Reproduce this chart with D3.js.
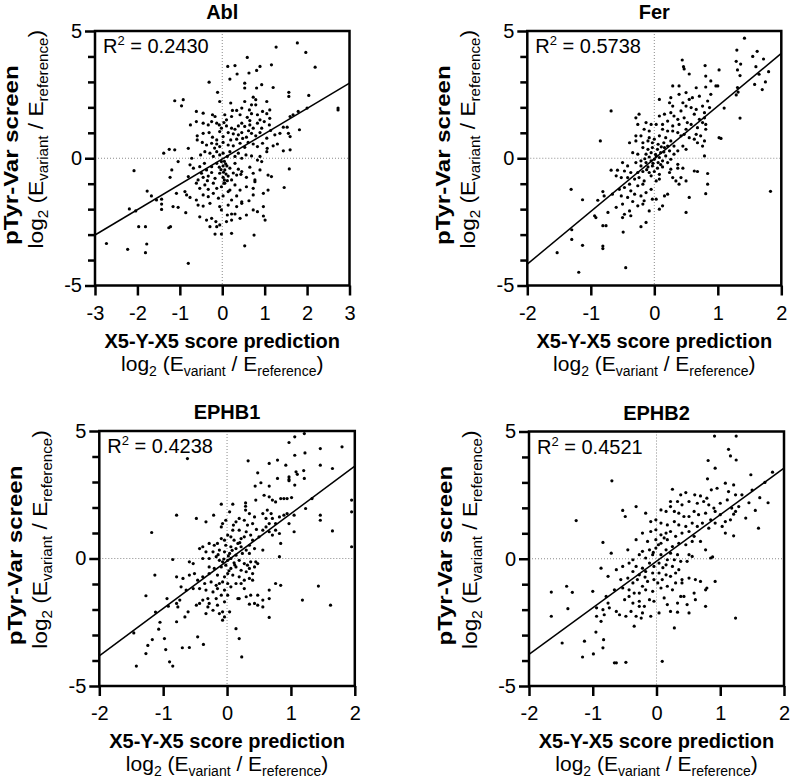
<!DOCTYPE html>
<html><head><meta charset="utf-8">
<script src="https://cdn.jsdelivr.net/npm/d3@7"></script>
<style>
body{margin:0;background:#fff;}
svg text{font-family:"Liberation Sans",Arial,Helvetica,sans-serif;fill:#000;}
</style></head><body>
<svg id="chart" width="790" height="781"></svg>
<script>
const panelTitles = ["Abl", "Fer", "EPHB1", "EPHB2"];
const r2Values = ["0.2430", "0.5738", "0.4238", "0.4521"];
const xDomains = [[-3, 3], [-2, 2], [-2, 2], [-2, 2]];
const xTickValues = [[-3, -2, -1, 0, 1, 2, 3], [-2, -1, 0, 1, 2], [-2, -1, 0, 1, 2], [-2, -1, 0, 1, 2]];
const yDomain = [-5, 5];
const yMajorTicks = [-5, 0, 5];
const yMinorTicks = [-4, -3, -2, -1, 1, 2, 3, 4];
const fitSlopes = [0.995, 2.07, 1.86, 1.83];
const fitIntercepts = [-0.03, -0.02, -0.10, -0.10];
const xTitle = "X5-Y-X5 score prediction";
const yTitle = "pTyr-Var screen";

const ablPoints = [
[-0.11,2.59],[0.73,2.40],[0.79,2.30],[1.57,2.59],[1.57,2.43],[-1.12,2.26],[-0.92,2.30],
[-0.96,2.06],[-0.06,2.23],[0.20,2.17],[0.53,2.23],[0.69,2.10],[0.79,2.10],[1.05,2.23],[1.12,1.90],[0.24,1.88],[0.34,1.88],[0.46,1.97],[0.64,1.90],[-0.61,1.84],[-0.45,1.77],
[-0.23,1.71],[-0.17,1.64],[0.06,1.71],[0.10,1.51],[0.22,1.64],[0.42,1.71],[0.69,1.75],[0.83,1.71],[0.95,1.84],[1.05,1.75],[1.12,1.57],[0.89,1.51],[0.59,1.61],[0.65,1.48],[1.67,1.71],[1.79,1.84],[1.60,1.64],
[-0.61,1.44],[-0.45,1.38],[-0.33,1.31],[-0.25,1.44],[-0.13,1.38],[-0.07,1.31],[0.04,1.40],[-0.02,1.18],[0.10,1.27],[0.22,1.18],[0.38,1.27],[0.30,1.14],[0.46,1.38],[0.53,1.25],[0.65,1.31],[0.73,1.18],[0.83,1.38],[0.99,1.44],[1.11,1.31],[0.93,1.18],[1.14,1.09],[1.44,1.22],[1.53,1.22],[-0.75,1.31],
[-0.59,0.88],[-0.59,0.72],[-0.45,0.98],[-0.31,1.01],[-0.23,0.83],[-0.13,0.72],[-0.06,1.05],[0.02,0.85],[0.14,1.01],[0.20,0.72],[0.26,0.96],[0.38,0.92],[0.46,1.01],[0.57,0.83],[0.69,0.98],[0.79,0.88],[0.89,1.01],[1.05,0.79],[1.24,0.92],[1.36,0.98],[1.56,0.98],[1.82,1.12],[1.60,0.85],
[-0.47,0.62],[-0.37,0.52],[-0.25,0.59],[-0.13,0.56],[-0.06,0.46],[0.02,0.62],[0.14,0.52],[0.26,0.49],[0.42,0.59],[0.53,0.43],[0.61,0.62],[0.73,0.56],[0.83,0.46],[0.95,0.59],[1.06,0.39],[1.20,0.49],[1.30,0.56],[1.44,0.29],[1.05,0.26],[1.60,0.33],[-1.12,0.33],[-0.80,0.39],
[-0.72,0.00],[-0.51,0.13],[-0.41,0.26],[-0.29,0.20],[-0.21,0.07],[-0.13,0.26],[-0.06,0.13],[0.02,0.20],[0.12,0.07],[0.18,0.26],[0.30,0.07],[0.38,0.20],[0.46,0.00],[0.56,0.13],[0.69,0.09],[0.83,-0.07],[0.89,0.07],[0.93,-0.13],[-1.04,-0.13],
[-0.76,-0.26],[-0.68,-0.39],[-0.53,-0.33],[-0.42,-0.20],[-0.37,-0.46],[-0.25,-0.33],[-0.13,-0.20],[-0.07,-0.35],[-0.02,-0.13],[0.02,-0.30],[0.06,-0.46],[0.18,-0.39],[0.30,-0.20],[0.38,-0.43],[0.46,-0.52],[0.65,-0.35],[0.73,-0.59],[0.89,-0.46],[1.08,-0.66],[1.58,-0.42],[-1.19,-0.46],
[-1.23,-0.75],[-0.80,-0.72],[-0.57,-0.85],[-0.49,-0.59],[-0.45,-0.75],[-0.33,-0.70],[-0.25,-0.56],[-0.17,-0.79],[-0.06,-0.59],[0.02,-0.75],[0.14,-0.70],[0.22,-0.85],[0.34,-0.66],[0.44,-0.63],[0.57,-0.75],[0.77,-0.85],[1.16,-0.72],
[-0.88,-1.31],[-0.61,-0.98],[-0.53,-1.18],[-0.41,-1.05],[-0.33,-1.22],[-0.21,-0.98],[-0.13,-1.18],[-0.02,-1.12],[0.06,-0.98],[0.18,-1.25],[0.30,-1.05],[0.42,-1.25],[0.57,-1.12],[0.73,-1.18],[0.77,-0.92],[0.97,-1.38],[1.08,-1.25],[1.46,-1.15],
[-1.08,-1.38],[-0.84,-1.44],[-0.76,-1.54],[-0.61,-1.64],[-0.45,-1.44],[-0.33,-1.51],[-0.21,-1.38],[-0.09,-1.57],[0.02,-1.48],[0.14,-1.31],[0.22,-1.64],[0.34,-1.48],[0.46,-1.71],[0.63,-1.67],[0.73,-1.44],
[-1.16,-1.90],[-1.04,-1.93],[-0.57,-1.84],[-0.45,-1.88],[-0.29,-1.77],[-0.06,-1.90],[-0.02,-2.03],[0.14,-1.84],[0.34,-1.90],[0.46,-1.77],[0.97,-1.90],[0.73,-2.03],[0.22,-2.19],[0.12,-2.23],[0.30,-2.19],[0.83,-2.10],
[-0.86,-2.14],[-0.53,-2.30],[-0.37,-2.43],[-0.25,-2.36],[-0.15,-2.49],[-0.06,-2.62],[-0.13,-2.69],[-0.29,-2.69],[0.10,-2.49],[0.22,-2.43],[0.42,-2.36],[0.57,-2.23],[0.97,-2.27],[1.01,-2.43],[-1.22,-2.69],
[-0.17,-2.98],[-0.02,-2.98],[0.22,-2.95],[0.75,-3.02],
[-2.73,-3.35],[-2.23,-3.58],[-1.81,-3.71],[-1.78,-3.37],[-1.97,-2.69],[-1.81,-2.69],[-2.19,-1.99],[-2.04,-2.07],[-2.08,-0.49],[-1.77,-1.29],[-1.67,-1.48],[-1.55,-1.64],[-1.43,-1.61],[-1.43,-1.80],[-1.43,-2.01],[-1.26,-2.73],[-1.38,0.20],[-1.25,0.35],
[2.19,3.58],[2.04,2.47],[2.00,1.97],[2.73,1.97],[2.73,1.90],[1.97,4.16],[1.77,4.53],[1.27,4.37],
[0.59,3.96],[0.13,3.61],[0.30,3.64],[0.89,3.61],[1.16,3.67],[0.81,3.45],[0.63,3.35],[0.35,3.31],[0.18,3.11],[-0.31,2.99],[1.20,2.78],[0.93,2.89],[0.53,2.95],[0.53,2.76],[0.81,2.76],
[-0.80,-4.13],[0.53,-3.44],
[0.05,-0.12],[0.08,-0.22],[0.03,-0.55],[0.09,-0.62],[0.05,-0.85],[-0.03,-0.45],[0.11,-0.30],[0.04,-0.98],[0.12,-0.88],[-0.18,0.40],[0.34,0.75],[0.48,0.78],[0.62,1.08],[-0.35,-0.88],[0.26,-0.58]
];

const ferPoints = [
[0.29,2.84],[0.39,2.84],[0.66,2.77],[0.81,2.80],[0.97,2.84],[1.00,2.84],[0.26,2.38],[0.39,2.51],[0.50,2.58],[0.55,2.31],[0.60,2.38],[0.71,2.44],[0.84,2.25],[0.89,2.51],[0.08,2.31],[0.24,2.18],[0.29,2.05],[0.45,2.18],[0.50,2.05],[0.58,1.99],[0.66,1.92],[0.76,2.05],[0.87,1.99],[0.79,1.79],[0.42,1.86],[0.26,1.79],[0.31,1.66],[0.16,1.73],[0.08,1.66],[0.37,1.53],[0.47,1.59],[0.63,1.73],[0.71,1.53],[0.79,1.59],[0.52,1.40],[0.58,1.33],[0.68,1.20],[0.76,1.40],[0.81,1.33],[0.81,1.14],[-0.68,1.86],[-0.24,1.73],[-0.29,1.59],[-0.26,1.33],[-0.13,1.40],[-0.05,1.33],[0.03,1.33],[0.13,1.33],[0.21,1.46],[0.29,1.27],[0.39,1.33],[0.50,1.14],[0.47,0.94],[0.66,0.94],[0.73,0.88],[0.79,0.68],[0.76,0.48],
[-0.16,1.14],[-0.08,1.07],[0.13,1.14],[0.21,1.07],[0.29,1.07],[0.37,1.01],[0.42,0.88],[0.55,0.81],[0.63,0.75],[0.68,0.61],[-0.29,0.88],[-0.21,0.88],[-0.08,0.81],[0,0.75],[0.08,0.88],[0.18,0.81],[0.26,0.68],[-0.39,0.61],[-0.29,0.68],[-0.18,0.61],[-0.10,0.68],[-0.03,0.61],[0.06,0.55],[0.15,0.61],[0.21,0.48],[0.31,0.48],[0.45,0.48],[0.50,0.35],[0.37,0.29],[-0.85,0.68],[-0.18,0.42],[-0.10,0.35],[-0.03,0.42],[0.05,0.35],[0.10,0.22],[0.16,0.42],[0.24,0.29],[0.31,0.16],[-0.34,0.22],[-0.26,0.16],[-0.13,0.16],[-0.05,0.22],[0.03,0.09],[0.08,0.03],[0.18,0.09],[0.79,0.09],[-0.21,-0.10],[-0.13,-0.17],[-0.05,-0.10],[0,-0.04],[0.06,-0.17],[0.13,-0.10],[0.21,-0.17],[0.26,-0.04],[0.37,-0.24],[0.45,-0.39],[-0.50,-0.17],[-0.42,-0.30],[-0.29,-0.17],[-0.21,-0.30],[-0.10,-0.34],[-0.03,-0.30],[0.05,-0.39],[0.13,-0.34],[0.26,-0.43],[0.37,-0.39],[0.63,-0.50],[0.68,-0.52],[0.84,-0.60],[-0.68,-0.47],[-0.58,-0.47],[-0.47,-0.50],[-0.37,-0.56],[-0.26,-0.56],[-0.18,-0.52],[-0.08,-0.56],[0,-0.52],[0.08,-0.63],[0.24,-0.56],[0.29,-0.76],[0.34,-0.89],[0.42,-0.76],[-0.60,-0.69],[-0.52,-0.76],[-0.42,-0.76],[-0.31,-0.82],[-0.24,-0.76],[-0.16,-0.89],[-0.05,-0.69],[0.03,-0.89],[0.08,-0.82],[0.39,-1.02],[0.50,-0.89],
[-0.81,-1.31],[-0.79,-1.48],[-1.13,-1.63],[-1.31,-1.22],[-0.89,-1.65],[-0.66,-1.41],[-0.55,-1.22],[-0.47,-1.15],[-0.39,-1.02],[-0.37,-1.28],[-0.26,-1.08],[-0.18,-1.02],[-0.13,-1.35],[-0.05,-1.22],[-0.52,-1.48],[-0.42,-1.54],[-0.31,-1.41],[-0.21,-1.48],[-0.16,-1.67],[-0.03,-1.61],[0.03,-1.61],[0.16,-1.48],[0.21,-1.41],[-0.50,-1.80],[-0.34,-1.70],[-0.26,-1.87],[-0.18,-1.80],[-0.60,-1.93],[-0.39,-2.07],[-0.08,-2.07],[0.08,-2.00],[0.13,-1.87],[0.55,-1.54],[-0.47,-2.20],[-0.37,-2.26],[-0.50,-2.33],[-0.73,-2.13],[-0.92,-2.33],[-0.94,-2.26],[-0.81,-2.65],[-0.76,-2.65],[-0.21,-2.69],[-0.13,-2.52],[0.50,-2.13],[0.81,-1.39],[0.84,-1.02],[1.02,0.81],
[-1.53,-3.71],[-1.19,-4.48],[-1.30,-3.19],[-1.30,-2.81],[-1.13,-3.42],[-0.81,-3.45],[-0.81,-3.55],[-0.49,-2.90],[-0.45,-4.30],
[0.44,3.86],[0.46,3.60],[0.47,3.51],[0.55,3.31],[0.80,3.64],[0.81,3.23],[1.02,3.47],[0.89,3.04],
[1.42,4.72],[1.30,4.25],[1.29,3.81],[1.36,3.70],[1.31,3.47],[1.35,3.25],[1.31,2.78],[1.32,2.60],[1.29,2.49],[1.10,1.97],[1.35,1.58],[1.05,0.78],
[1.55,4.0],[1.6,3.6],[1.65,3.3],[1.72,3.9],[1.75,3.0],[1.58,2.9],[1.8,3.4],[1.83,-1.3],[1.62,4.2],[1.7,2.7],
[0.02,0.15],[-0.08,0.05],[0.10,-0.25],[-0.12,-0.45],[0.15,0.25],[-0.02,-0.20],[0.11,0.45],[-0.15,-0.02]
];

const ephb1Points = [
[0.44,2.84],[0.53,2.97],[0.66,2.84],[0.97,3.05],[1.06,2.88],[0.58,2.48],[0.66,2.42],[0.71,2.29],[0.76,2.22],[0.84,2.35],[0.89,2.35],[0.94,2.35],[1.01,2.39],[0.45,2.29],[0.29,2.18],[0.29,2.05],[0.09,2.13],[-0.09,2.13],
[-0.79,1.70],[-0.48,1.57],[-0.33,1.44],[-0.21,1.70],[0.04,1.83],[0.29,1.90],[0.35,1.76],[0.43,1.63],[0.56,1.76],[0.63,1.90],[0.69,1.76],[0.61,1.57],[0.71,1.57],[0.82,1.63],[0.89,1.70],[0.94,1.76],[1.05,1.70],[1.23,1.96],[1.33,2.35],
[0.97,1.37],[1.05,1.05],[0.76,1.37],[0.66,1.37],[0.61,1.24],[0.56,1.11],[0.46,1.14],[0.40,1.37],[0.32,1.31],[0.27,1.50],[0.19,1.57],[0.14,1.44],[0.10,1.31],[-0.02,1.50],[-0.07,1.37],[-0.09,1.24],[0.09,1.11],[0.19,1.11],[0.30,1.05],[0.37,0.92],[0.66,1.05],[0.71,0.92],[0.76,1.11],[0.82,0.98],[0.84,0.59],[0.50,0.85],[0.56,0.33],
[0.40,0.72],[0.27,0.85],[0.22,0.78],[0.17,0.59],[0.11,0.72],[0.06,0.85],[0.01,0.92],[-0.04,0.72],[-0.09,0.78],[-0.15,0.59],[-0.02,0.52],[0.06,0.46],[0.14,0.39],[0.22,0.46],[0.30,0.33],[0.35,0.52],[0.43,0.39],[-0.28,0.59],[-0.20,0.52],[-0.38,0.46],[-0.43,0.39],[-0.33,0.26],[-0.22,0.26],[-0.12,0.33],[-0.04,0.26],[0.04,0.20],[0.14,0.13],[0.24,0.20],[0.35,0.20],[0.45,-0.13],[0.48,-0.20],[0.82,0.07],
[-0.85,-0.04],[-0.59,-0.13],[-0.53,-0.20],[-0.38,0],[-0.28,0],[-0.17,0.07],[-0.12,-0.07],[-0.07,-0.13],[0.01,-0.07],[0.06,0],[0.11,-0.17],[0.19,-0.07],[0.27,-0.20],[0.32,-0.26],[0.37,-0.13],[0.43,-0.33],
[-0.28,-0.33],[-0.20,-0.39],[-0.09,-0.33],[-0.02,-0.26],[0.06,-0.39],[0.14,-0.33],[0.22,-0.46],[0.30,-0.52],[0.35,-0.39],[0.40,-0.59],
[-0.79,-0.72],[-0.69,-0.78],[-0.59,-0.65],[-0.51,-0.59],[-0.46,-0.85],[-0.38,-0.72],[-0.28,-0.59],[-0.15,-0.65],[-0.04,-0.72],[0.01,-0.59],[0.09,-0.65],[0.19,-0.72],[0.27,-0.85],[0.35,-0.78],[0.40,-0.85],
[-0.35,-0.98],[-0.25,-0.92],[-0.17,-1.05],[-0.12,-0.98],[-0.07,-0.92],[0.01,-0.98],[0.06,-1.11],[0.14,-0.98],[0.22,-0.98],
[-0.72,-1.11],[-0.64,-1.24],[-0.53,-1.18],[-0.43,-1.18],[-0.33,-1.24],[-0.22,-1.31],[-0.15,-1.18],[-0.04,-1.24],[0.01,-1.44],[0.27,-1.18],[0.30,-1.50],[0.17,-1.57],[0.37,-1.44],[0.48,-1.44],[0.56,-1.63],[0.66,-1.24],[0.76,-0.98],[0.84,-1.05],
[-0.30,-1.57],[-0.38,-1.63],[-0.28,-1.76],[-0.17,-1.57],[-0.15,-1.83],[-0.09,-1.44],[-0.04,-1.70],[-0.30,-1.90],[-0.48,-1.83],[-0.43,-1.76],[-0.74,-1.63],[-0.79,-1.76],[-0.77,-1.90],
[-0.22,-2.03],[-0.33,-2.16],[-0.61,-2.09],[-0.66,-2.29],[-0.79,-2.48],[-0.12,-2.16],[-0.07,-2.09],[-0.04,-2.29],[-0.07,-2.42],[0.04,-2.09],[0.19,-1.57],[0.35,-1.79],[0.43,-1.76],[0.48,-1.83],[0.56,-1.90],[0.66,-1.57],[0.66,-2.31],[1.18,-1.63],[1.43,-1.08],[0.14,-2.75],
[-0.62,3.92],[0.97,4.55],[1.06,4.77],[1.21,4.90],[1.46,4.31],[1.80,4.38],[1.22,4.14],[1.06,4.05],[0.66,3.73],[0.33,3.83],[0.79,3.86],[0.92,3.66],[1.46,3.66],[1.65,3.53],[1.08,3.40],[1.10,3.30],[1.20,3.45],[0.97,3.20],[0.97,3.10],[1.21,3.14],[0.79,3.14],[0.48,3.36],
[1.95,2.29],[1.95,1.83],[1.65,1.08],[1.46,1.70],[1.46,1.50],[1.95,0.46],[1.62,-1.83],
[-1.18,1.02],[-1.13,-0.65],[-1.27,-1.46],[-1.46,-2.92],[-1.27,-3.73],[-1.42,-4.22],[-1.24,-3.41],[-1.07,-2.77],[-1.17,-3.18],[-0.98,-3.14],[-0.96,-3.57],[-0.90,-4.05],[-0.85,-4.22],[-0.70,-3.50],[-0.59,-3.49],[-0.46,-3.07],[-0.37,-3.37],[-0.94,-1.57],[-0.92,-1.87],[-1.05,-2.50],[-1.12,-2.10],
[0.19,-3.14],[0.23,-3.86],
[0.02,0.10],[-0.05,-0.02],[0.08,0.32],[0.12,-0.25],[-0.14,0.15],[0.20,0.62],[0.03,-0.48]
];

const ephb2Points = [
[-0.70,3.06],[0.25,2.73],[0.38,2.51],[0.46,2.60],[0.60,2.51],[0.69,2.47],[0.79,2.38],[0.86,2.71],[0.95,2.77],[1.08,2.97],[1.13,2.64],[1.21,2.90],[1.24,2.51],
[0.22,2.25],[0.33,2.25],[0.40,2.12],[0.51,2.25],[0.64,2.18],[0.74,2.25],[0.82,2.12],[0.90,1.99],[1.00,2.18],[1.11,2.31],[1.18,1.99],[1.24,1.86],
[-0.53,1.90],[-0.49,1.66],[-0.32,2.05],[-0.17,1.79],[0.07,1.92],[0.15,1.86],[0.22,2.05],[0.28,1.86],[0.35,1.79],[0.43,1.66],[0.51,1.66],[0.59,1.86],[0.66,1.73],[0.77,1.79],[0.85,1.53],[0.92,1.86],[1.00,1.73],[1.08,1.46],[1.16,1.53],
[-0.09,1.46],[-0.01,1.53],[0.07,1.40],[0.17,1.33],[0.28,1.46],[0.35,1.33],[0.46,1.27],[0.56,1.40],[0.64,1.27],[0.72,1.40],[0.82,1.20],[0.92,1.40],[1.03,1.27],[1.08,1.01],[1.21,0.90],
[-0.22,1.01],[-0.09,1.07],[-0.01,1.14],[0.07,0.94],[0.15,1.01],[0.22,1.07],[0.30,0.88],[0.40,1.01],[0.51,1.07],[0.59,0.88],[0.69,0.68],[0.77,0.35],[0.88,0.07],[0.85,0.03],
[-0.84,0.64],[-0.45,0.35],[-0.71,0.22],[-0.32,0.75],[-0.14,0.68],[-0.01,0.75],[0.07,0.61],[0.17,0.75],[0.25,0.48],[0.35,0.61],[0.46,0.55],[0.56,0.68],[0.15,0.35],[0.22,0.22],[0.33,0.16],[0.51,0.16],[0.56,0.09],
[-0.01,0.42],[-0.11,0.35],[-0.22,0.29],[-0.27,0.16],[-0.37,-0.04],[-0.17,0.03],[-0.06,0.16],[0.07,0.16],[0.17,-0.04],[0.28,-0.04],[0.38,-0.10],[0.48,-0.10],
[-0.87,-0.37],[-0.76,-0.69],[-0.63,-0.43],[-0.53,-0.30],[-0.43,-0.17],[-0.32,-0.30],[-0.22,-0.37],[-0.11,-0.17],[-0.04,-0.30],[0.04,-0.17],[0.15,-0.24],[0.25,-0.30],[0.35,-0.43],
[-0.37,-0.50],[-0.27,-0.63],[-0.17,-0.50],[-0.06,-0.56],[0.04,-0.56],[0.15,-0.63],[0.22,-0.69],[0.30,-0.56],[0.40,-0.82],[0.51,-0.76],
[-0.56,-0.82],[-0.45,-0.76],[-0.37,-0.95],[-0.30,-0.82],[-0.22,-1.08],[-0.14,-0.89],[-0.04,-0.82],[0.09,-0.82],[0.17,-1.08],[0.30,-0.95],[0.40,-0.95],[0.61,-0.82],[0.69,-0.89],[0.79,-1.15],[0.92,-0.89],
[-1.00,-1.28],[-0.79,-1.48],[-0.66,-1.22],[-0.53,-1.15],[-0.43,-1.22],[-0.35,-1.35],[-0.27,-1.35],[-0.17,-1.22],[-0.06,-1.28],[0.07,-1.15],[0.25,-1.22],[0.38,-1.48],[0.43,-1.48],[0.59,-1.35],[0.77,-1.22],
[-0.94,-1.93],[-0.84,-2.00],[-0.76,-1.74],[-0.63,-2.07],[-0.50,-1.61],[-0.43,-1.48],[-0.37,-1.74],[-0.27,-1.67],[-0.19,-1.87],[-0.11,-1.61],[-0.04,-1.67],[0.12,-1.54],[0.17,-1.80],[0.33,-1.74],[0.48,-1.80],[0.61,-1.61],[0.77,-1.87],
[-0.94,-2.26],[-0.87,-2.46],[-0.82,-2.20],[-0.74,-1.93],[-0.58,-2.20],[-0.48,-2.26],[-0.40,-2.07],[-0.32,-2.26],[-0.27,-1.87],[-0.24,-2.33],[-0.35,-2.65],[-0.22,-2.13],[-0.09,-2.26],[0.04,-2.13],[0.22,-2.07],[0.33,-2.10],[0.28,-2.72],[0.51,-2.13],[1.24,-2.33],
[0.91,4.82],[1.25,4.82],[1.13,4.30],[1.16,4.04],[1.25,3.88],[0.81,3.86],[0.92,3.56],[0.80,3.14],
[-1.26,1.50],[-1.65,-1.31],[-1.41,-1.08],[-1.32,-1.32],[-1.39,-1.96],[-1.65,-2.26],[-1.48,-3.31],[-1.13,-3.24],[-1.16,-3.86],[-0.99,-3.74],[-0.84,-3.50],[-0.83,-3.18],[-0.95,-2.88],[-0.66,-4.09],[-0.63,-4.09],[-0.48,-4.07],[0.09,-4.03],
[1.29,2.05],[1.34,2.51],[1.21,1.75],[1.45,2.2],[1.5,2.7],[1.55,1.9],[1.62,2.4],[1.7,3.0],[1.75,2.2],[1.82,3.4],[1.4,1.6],[1.48,3.3],[1.6,1.2],
[0.03,0.55],[-0.05,0.25],[0.10,-0.35],[0.02,-0.95],[-0.18,-0.72],[0.12,0.82]
];

const pointSets = [ablPoints, ferPoints, ephb1Points, ephb2Points];

const frames = [
  {left: 95, top: 31, width: 254.5, height: 254.5},
  {left: 527.3, top: 31, width: 254, height: 254.5},
  {left: 99.3, top: 431, width: 255.5, height: 255},
  {left: 529, top: 431.5, width: 255, height: 254.5}
];

const svg = d3.select("#chart");
const FS = 20;

function addSubLabel(textSel) {
  textSel.append("tspan").text("log");
  textSel.append("tspan").attr("font-size", 14).attr("dy", 5).text("2");
  textSel.append("tspan").attr("dy", -5).text(" (E");
  textSel.append("tspan").attr("font-size", 14).attr("dy", 5).text("variant");
  textSel.append("tspan").attr("dy", -5).text(" / E");
  textSel.append("tspan").attr("font-size", 14).attr("dy", 5).text("reference");
  textSel.append("tspan").attr("dy", -5).text(")");
}

frames.forEach((f, i) => {
  const g = svg.append("g");
  const x = d3.scaleLinear().domain(xDomains[i]).range([f.left, f.left + f.width]);
  const y = d3.scaleLinear().domain(yDomain).range([f.top + f.height, f.top]);

  g.append("line").attr("x1", x(0)).attr("x2", x(0)).attr("y1", y(5)).attr("y2", y(-5))
    .attr("stroke", "#8a8a8a").attr("stroke-width", 1).attr("stroke-dasharray", "1,2");
  g.append("line").attr("x1", x(xDomains[i][0])).attr("x2", x(xDomains[i][1])).attr("y1", y(0)).attr("y2", y(0))
    .attr("stroke", "#8a8a8a").attr("stroke-width", 1).attr("stroke-dasharray", "1,2");

  g.append("g").selectAll("circle").data(pointSets[i]).join("circle")
    .attr("cx", d => x(d[0])).attr("cy", d => y(d[1])).attr("r", 1.6).attr("fill", "#000");

  const x0 = xDomains[i][0], x1 = xDomains[i][1];
  g.append("line")
    .attr("x1", x(x0)).attr("y1", y(fitSlopes[i] * x0 + fitIntercepts[i]))
    .attr("x2", x(x1)).attr("y2", y(fitSlopes[i] * x1 + fitIntercepts[i]))
    .attr("stroke", "#000").attr("stroke-width", 1.5);

  const xAxis = g.append("g").attr("transform", `translate(0,${f.top + f.height})`)
    .call(d3.axisBottom(x).tickValues(xTickValues[i]).tickSize(10).tickPadding(10).tickSizeOuter(0).tickFormat(d => String(d)));
  const yAxis = g.append("g").attr("transform", `translate(${f.left},0)`)
    .call(d3.axisLeft(y).tickValues(yMajorTicks).tickSize(10).tickPadding(3).tickSizeOuter(0).tickFormat(d => String(d)));
  const yMinor = g.append("g").attr("transform", `translate(${f.left},0)`)
    .call(d3.axisLeft(y).tickValues(yMinorTicks).tickSize(7).tickSizeOuter(0).tickFormat(""));
  [xAxis, yAxis, yMinor].forEach(a => {
    a.select(".domain").remove();
    a.selectAll("line").attr("stroke", "#000").attr("stroke-width", 2.5);
    a.selectAll("text").attr("font-size", FS).attr("font-family", null).attr("fill", "#000");
  });

  g.append("rect").attr("x", f.left).attr("y", f.top).attr("width", f.width).attr("height", f.height)
    .attr("fill", "none").attr("stroke", "#000").attr("stroke-width", 2.5);

  g.append("text").attr("x", f.left + f.width / 2).attr("y", f.top - 12)
    .attr("text-anchor", "middle").attr("font-weight", "bold").attr("font-size", 20).text(panelTitles[i]);

  const r2 = g.append("text").attr("x", f.left + 8).attr("y", f.top + 22).attr("font-size", FS);
  r2.append("tspan").text("R");
  r2.append("tspan").attr("font-size", 13).attr("dy", -8).text("2");
  r2.append("tspan").attr("dy", 8).text(" = " + r2Values[i]);

  const cx = f.left + f.width / 2;
  const base = f.top + f.height;
  g.append("text").attr("x", cx).attr("y", base + 62).attr("text-anchor", "middle")
    .attr("font-weight", "bold").attr("font-size", FS).text(xTitle);
  addSubLabel(g.append("text").attr("x", cx).attr("y", base + 85).attr("text-anchor", "middle").attr("font-size", 21));

  const cy = f.top + f.height / 2;
  g.append("text").attr("transform", `translate(${f.left - 77},${cy - 3}) rotate(-90) scale(1.2,1)`)
    .attr("text-anchor", "middle").attr("font-weight", "bold").attr("font-size", FS).text(yTitle);
  addSubLabel(g.append("text").attr("transform", `translate(${f.left - 52},${cy - 19}) rotate(-90) scale(1.08,1)`)
    .attr("text-anchor", "middle").attr("font-size", 21));
});
</script>
</body></html>
